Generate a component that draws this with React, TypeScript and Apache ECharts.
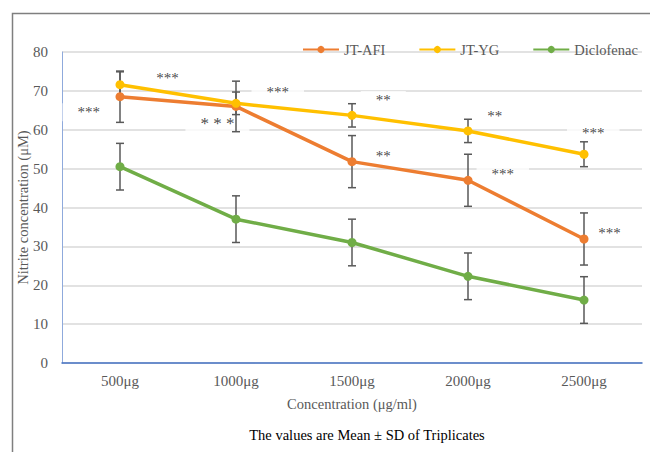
import React, { useEffect, useRef } from "react";
import * as echarts from "echarts";

const categories = ["500μg", "1000μg", "1500μg", "2000μg", "2500μg"];
const afiValues = [68.5, 66.0, 51.8, 47.0, 31.9];
const afiSd = [6.6, 6.5, 6.7, 6.7, 6.7];
const ygValues = [71.6, 66.8, 63.7, 59.7, 53.7];
const ygSd = [3.3, 2.9, 3.0, 3.0, 3.2];
const dicValues = [50.5, 37.0, 31.0, 22.3, 16.2];
const dicSd = [6.0, 6.0, 6.0, 6.0, 6.0];

// significance marks: position along category index, value, text
const annX = [-0.27, 0.41, 0.84, 1.36, 2.27, 2.27, 3.23, 3.3, 4.08, 4.22];
const annY = [65.3, 74.1, 62.5, 70.5, 68.4, 54.0, 64.3, 49.4, 60.0, 34.2];
const annText = ["***", "***", "* * *", "***", "**", "**", "**", "***", "***", "***"];

const FONT = "'Liberation Serif', 'Times New Roman', serif";

export default function App() {
  const ref = useRef<HTMLDivElement>(null);
  useEffect(() => {
    if (!ref.current) return;
    const chart = echarts.init(ref.current, null, { renderer: "svg" });
    const errData: any[] = [];
    const pushErr = (vals: number[], sds: number[]) =>
      vals.forEach((v, i) => errData.push([i, v - sds[i], v + sds[i]]));
    pushErr(afiValues, afiSd);
    pushErr(ygValues, ygSd);
    pushErr(dicValues, dicSd);

    const lineSeries = (name: string, data: number[], color: string) => ({
      name,
      type: "line",
      data,
      z: 3,
      symbol: "circle",
      symbolSize: 9,
      lineStyle: { color, width: 3.5 },
      itemStyle: { color },
    });

    chart.setOption({
      animation: false,
      textStyle: { fontFamily: FONT },
      grid: { left: 62, right: 8, top: 52, bottom: 89 },
      legend: {
        left: 297,
        top: 37,
        itemWidth: 36,
        itemHeight: 9,
        itemGap: 33,
        textStyle: { fontFamily: FONT, fontSize: 14.5, color: "#595959" },
        data: ["JT-AFI", "JT-YG", "Diclofenac"],
      },
      xAxis: [
        {
          type: "category",
          data: categories,
          boundaryGap: true,
          axisLine: { lineStyle: { color: "#4472C4", width: 1.5 } },
          axisTick: { show: false },
          axisLabel: { fontFamily: FONT, fontSize: 15, color: "#595959", margin: 10 },
          name: "Concentration (μg/ml)",
          nameLocation: "middle",
          nameGap: 33,
          nameMoveOverlap: false,
          nameTextStyle: { fontFamily: FONT, fontSize: 14.5, color: "#595959" },
        },
        {
          type: "value",
          min: -0.5,
          max: 4.5,
          show: false,
        },
      ],
      yAxis: {
        type: "value",
        min: 0,
        max: 80,
        interval: 10,
        axisLine: { show: true, onZero: false, lineStyle: { color: "#8FAADC", width: 1 } },
        axisTick: { show: false },
        splitLine: { lineStyle: { color: "#D9D9D9", width: 1.5 } },
        axisLabel: { fontFamily: FONT, fontSize: 15, color: "#595959", margin: 14 },
        name: "Nitrite concentration (μM)",
        nameLocation: "middle",
        nameGap: 32,
        nameMoveOverlap: false,
        nameTextStyle: { fontFamily: FONT, fontSize: 14.5, color: "#595959" },
      },
      graphic: [
        {
          type: "rect",
          shape: { x: 12.5, y: 13.5, width: 700, height: 500 },
          style: { fill: "none", stroke: "#7F7F7F", lineWidth: 1.5 },
          silent: true,
        },
        {
          type: "text",
          x: 367,
          y: 435,
          style: {
            text: "The values are Mean ± SD of Triplicates",
            font: `14.5px ${FONT}`,
            fill: "#000",
            align: "center",
            verticalAlign: "middle",
          },
        },
      ],
      series: [
        {
          type: "scatter",
          xAxisIndex: 1,
          z: 1,
          symbolSize: 1,
          itemStyle: { color: "transparent" },
          data: annX.map((x, i) => ({
            value: [x, annY[i]],
            label: {
              show: true,
              position: "inside",
              offset: [0, 3],
              formatter: annText[i],
              fontFamily: FONT,
              fontSize: annText[i] === "* * *" ? 17 : 15,
              color: "#111",
              backgroundColor: "#fff",
              padding: [3, 15, 0, 15],
            },
          })),
          silent: true,
        },
        {
          type: "custom",
          z: 2,
          data: errData,
          encode: { x: 0, y: [1, 2] },
          renderItem: (params: any, api: any) => {
            const x = api.value(0);
            const lo = api.coord([x, api.value(1)]);
            const hi = api.coord([x, api.value(2)]);
            const cw = 4;
            const style = { stroke: "#595959", lineWidth: 1.5 };
            return {
              type: "group",
              children: [
                { type: "line", shape: { x1: lo[0], y1: lo[1], x2: hi[0], y2: hi[1] }, style },
                { type: "line", shape: { x1: lo[0] - cw, y1: lo[1], x2: lo[0] + cw, y2: lo[1] }, style },
                { type: "line", shape: { x1: hi[0] - cw, y1: hi[1], x2: hi[0] + cw, y2: hi[1] }, style },
              ],
            };
          },
        },
        lineSeries("JT-AFI", afiValues, "#ED7D31"),
        lineSeries("JT-YG", ygValues, "#FFC000"),
        lineSeries("Diclofenac", dicValues, "#70AD47"),
      ],
    });
    return () => chart.dispose();
  }, []);
  return (
    <div
      ref={ref}
      style={{ position: "absolute", left: 0, top: 0, width: 650, height: 452, background: "#fff" }}
    />
  );
}
